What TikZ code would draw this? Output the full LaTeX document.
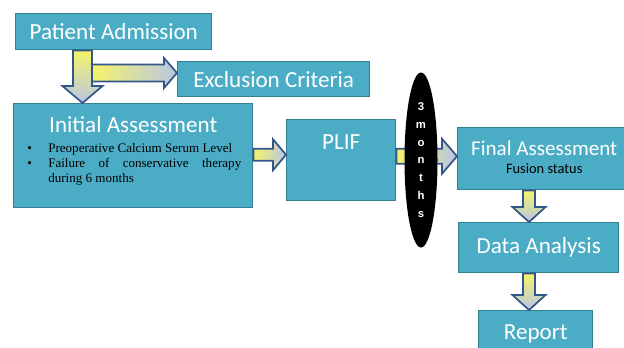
\documentclass[tikz,border=0pt]{standalone}
\usepackage{fontspec}
\setmainfont{Carlito}
\newfontfamily\bulletfont{Liberation Serif}
\newfontfamily\monthfont{Liberation Sans}
\usepackage{tikz}
\usetikzlibrary{shapes.geometric,calc}
\definecolor{PFTeal}{HTML}{4BACC6}
\definecolor{PFEdge}{HTML}{357F93}
\definecolor{PFArrow}{HTML}{34578A}
\definecolor{PFYellow}{HTML}{F5F36A}
\definecolor{PFBlue}{HTML}{B8C6E4}

\tikzset{
  box/.style={draw=PFEdge, line width=1.1pt, fill=PFTeal, inner sep=0pt, anchor=north west,
    text=white, font=\fontsize{17.3}{20}\selectfont},
  boxtitle/.style={anchor=base, inner sep=0pt, text=white, font=\fontsize{17.3}{20}\selectfont},
  blockarrow/.style={draw=PFArrow, line width=1.3pt, line join=miter},
}

% block arrows: from, to, half shaft, half head, head length
\newcommand{\blockdown}[5]{%
  \path[blockarrow, top color=PFYellow, bottom color=PFBlue] let \p1=#1, \p2=#2 in
    (\x1-#3,\y1) -- (\x1+#3,\y1) -- (\x1+#3,\y2+#5) -- (\x1+#4,\y2+#5) -- (\x1,\y2)
    -- (\x1-#4,\y2+#5) -- (\x1-#3,\y2+#5) -- cycle;}
\newcommand{\blockright}[5]{%
  \path[blockarrow, left color=PFYellow, right color=PFBlue] let \p1=#1, \p2=#2 in
    (\x1,\y1+#3) -- (\x2-#5,\y1+#3) -- (\x2-#5,\y1+#4) -- (\x2,\y1) -- (\x2-#5,\y1-#4)
    -- (\x2-#5,\y1-#3) -- (\x1,\y1-#3) -- cycle;}
\newcommand{\bulletitem}{\noindent\hspace*{-15.75pt}\makebox[15.75pt][l]{\textbullet}}

\begin{document}
\begin{tikzpicture}[x=0.75pt,y=-0.75pt]
\clip (0,0) rectangle (624,347);
% boxes
\node[box, minimum width=147pt, minimum height=27pt] (adm) at (15,13) {Patient Admission};
\node[box, minimum width=144pt, minimum height=26.25pt] (excl) at (177,61) {Exclusion Criteria};
\node[box, minimum width=179.25pt, minimum height=78pt] (init) at (13,103) {};
\node[boxtitle] (inittitle) at ($(init.north)+(0,29)$) {Initial Assessment};
\node[anchor=base west, inner sep=0pt, text width=160.5pt, align=justify,
  font=\bulletfont\fontsize{9.8}{11.6}\selectfont] (initlist) at (27,152) {%
  \leftskip=15.75pt\hyphenpenalty=10000\exhyphenpenalty=10000
  \bulletitem Preoperative Calcium Serum Level\par
  \bulletitem Failure of conservative therapy during 6 months\par};
\node[box, minimum width=81.75pt, minimum height=60.75pt] (plif) at (286,119) {};
\node[boxtitle] (pliftitle) at ($(plif.north)+(0,30)$) {PLIF};
\node[box, minimum width=129.75pt, minimum height=46.5pt] (final) at (457,127) {};
\node[boxtitle, font=\fontsize{15.8}{18}\selectfont] (finaltitle) at ($(final.north)+(0,28)$) {Final Assessment};
\node[anchor=base, inner sep=0pt, font=\fontsize{10.8}{13}\selectfont] (fusion) at ($(final.north)+(0,46)$) {Fusion status};
\node[box, minimum width=120pt, minimum height=37.5pt] (data) at (458,222) {Data Analysis};
\node[box, minimum width=85.5pt, minimum height=33pt] (report) at (478,310) {};
\node[boxtitle] (reporttitle) at ($(report.north)+(0,29)$) {Report};
% arrows
\blockdown{($(adm.south west)+(67.5,0)$)}{(init.north)}{7.1pt}{15pt}{12.75pt}
\coordinate (split) at ($(adm.south west)+(77,22.5)$);
\blockright{(split)}{(excl.west)}{6.4pt}{11.25pt}{9.75pt}
\blockright{($(init.east)+(0,-1)$)}{(plif.west)}{4.5pt}{11.6pt}{9.75pt}
\blockright{($(plif.east)+(0,-4)$)}{(final.west)}{5.6pt}{13.1pt}{11.25pt}
\blockdown{($(final.south west)+(72,0)$)}{(data.north)}{4.5pt}{12.4pt}{11.25pt}
\blockdown{($(data.south west)+(71,0)$)}{(report.north)}{4.5pt}{12.4pt}{11.25pt}
% waiting time
\node[ellipse, fill=black, minimum width=24.75pt, minimum height=131.25pt, inner sep=0pt,
  text=white, align=center, font=\monthfont\bfseries\fontsize{8.5}{13.4}\selectfont] (wait) at (421,160)
  {3\\m\\o\\n\\t\\h\\s};
\end{tikzpicture}
\end{document}
